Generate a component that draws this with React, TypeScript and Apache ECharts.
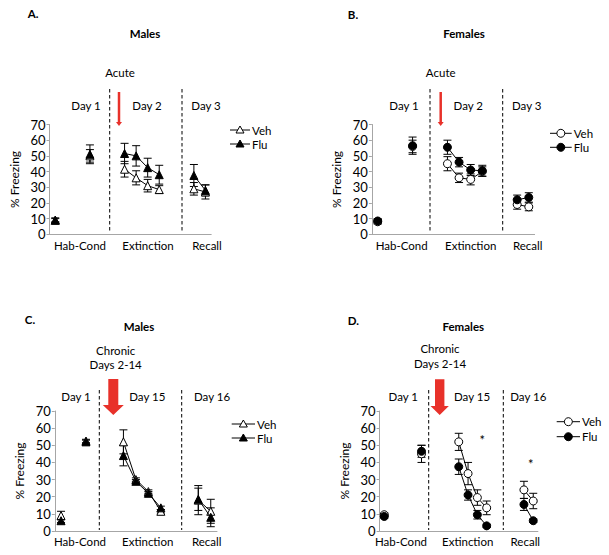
import React, { useEffect, useRef } from "react";
import * as echarts from "echarts";

// Phases: Hab, Cond, Ext1..Ext4, Recall1, Recall2
const phases = ["Hab", "Cond", "Ext1", "Ext2", "Ext3", "Ext4", "Rec1", "Rec2"];

// Panel A – Males, acute
const aVeh = [9, 50, 41.5, 36, 31, 28.5, 29, 27];
const aVehSem = [1, 4, 5, 4.5, 4, 2.5, 4, 4.5];
const aFlu = [9, 51, 51.5, 50, 42.5, 38, 37.5, 28];
const aFluSem = [1.5, 6, 6.5, 6.5, 6, 6, 7, 3.5];

// Panel B – Females, acute
const bVeh = [8, 56, 45, 36, 35, 40, 19, 17.5];
const bVehSem = [1.5, 4, 4.5, 3, 3.5, 3, 3, 2.5];
const bFlu = [8.5, 56.5, 55.5, 46, 41, 40.5, 22, 23.5];
const bFluSem = [1.5, 5.5, 4.5, 3, 3.5, 3.5, 3, 3];

// Panel C – Males, chronic
const cVeh = [9, 52.5, 52, 30, 23, 11.5, 18, 11.5];
const cVehSem = [2.5, 1, 7, 1, 1, 1, 8.5, 7];
const cFlu = [6, 52, 44, 29, 22, 13.5, 18.5, 8];
const cFluSem = [1, 1, 6, 1, 1, 1, 6.5, 5.5];

// Panel D – Females, chronic
const dVeh = [9.5, 45, 52, 33.5, 19.5, 13.5, 24, 17.5];
const dVehSem = [1, 5, 5, 6.5, 4.5, 4, 5, 4.5];
const dFlu = [8.5, 46.5, 37.5, 21, 9.5, 3, 15.5, 6];
const dFluSem = [1, 3.5, 4.5, 3, 2.5, 1, 3.5, 1];

// category slots of each phase on the x axis (layout)
const slotsAB = [0, 3, 6, 7, 8, 9, 12, 13];
const slotsC = [0, 2, 5, 6, 7, 8, 11, 12];
const slotsD = [0, 4, 8, 9, 10, 11, 15, 16];

const yTicks = [0, 10, 20, 30, 40, 50, 60, 70];
const groupLabels = ["Hab-Cond", "Extinction", "Recall"];

const FONT = 'Lato, "Liberation Sans", sans-serif';
const AXIS = "#a6a6a6";
const RED = "#e8312a";

type Panel = {
  grid: { left: number; top: number; width: number; height: number };
  n: number;
  slots: number[];
  veh: number[];
  vehSem: number[];
  flu: number[];
  fluSem: number[];
  symbol: string;
  size: number;
};

const panels: Panel[] = [
  { grid: { left: 49.5, top: 124.5, width: 161.7, height: 109.8 }, n: 14, slots: slotsAB, veh: aVeh, vehSem: aVehSem, flu: aFlu, fluSem: aFluSem, symbol: "triangle", size: 8 },
  { grid: { left: 371.9, top: 124.5, width: 162.7, height: 109.8 }, n: 14, slots: slotsAB, veh: bVeh, vehSem: bVehSem, flu: bFlu, fluSem: bFluSem, symbol: "circle", size: 8 },
  { grid: { left: 54.8, top: 411, width: 162.2, height: 120 }, n: 13, slots: slotsC, veh: cVeh, vehSem: cVehSem, flu: cFlu, fluSem: cFluSem, symbol: "triangle", size: 8 },
  { grid: { left: 379.6, top: 411, width: 158.3, height: 120 }, n: 17, slots: slotsD, veh: dVeh, vehSem: dVehSem, flu: dFlu, fluSem: dFluSem, symbol: "circle", size: 8 },
];

function txt(text: string, x: number, y: number, opts: any = {}) {
  return {
    type: "text",
    x,
    y,
    silent: true,
    style: {
      text,
      fill: "#000",
      fontFamily: FONT,
      fontSize: opts.size || 11.5,
      fontWeight: opts.bold ? "bold" : "normal",
      align: opts.align || "center",
      verticalAlign: "middle",
      textAlign: opts.align || "center",
      textVerticalAlign: "middle",
    },
  };
}

function dashed(x: number, y1: number, y2: number) {
  return {
    type: "line",
    silent: true,
    shape: { x1: x, y1, x2: x, y2 },
    style: { stroke: "#000", lineWidth: 1, lineDash: [3.5, 2.5] },
  };
}

function thinArrow(x: number, y1: number, y2: number) {
  return [
    { type: "line", silent: true, shape: { x1: x, y1, x2: x, y2: y2 - 3 }, style: { stroke: RED, lineWidth: 2.5 } },
    { type: "polygon", silent: true, shape: { points: [[x - 3, y2 - 4], [x + 3, y2 - 4], [x, y2]] }, style: { fill: RED } },
  ];
}

function fatArrow(cx: number, y1: number, yh: number, y2: number, sw: number, hw: number) {
  return {
    type: "polygon",
    silent: true,
    shape: {
      points: [
        [cx - sw / 2, y1], [cx + sw / 2, y1], [cx + sw / 2, yh], [cx + hw / 2, yh],
        [cx, y2], [cx - hw / 2, yh], [cx - sw / 2, yh],
      ],
    },
    style: { fill: RED },
  };
}

function legendItem(x1: number, x2: number, y: number, label: string, symbol: string, filled: boolean) {
  const cx = (x1 + x2) / 2;
  const marker =
    symbol === "circle"
      ? { type: "circle", silent: true, shape: { cx, cy: y, r: 4 }, style: { fill: filled ? "#000" : "#fff", stroke: "#000", lineWidth: 1 } }
      : { type: "polygon", silent: true, shape: { points: [[cx - 4, y + 3], [cx + 4, y + 3], [cx, y - 4]] }, style: { fill: filled ? "#000" : "#fff", stroke: "#000", lineWidth: 1 } };
  return [
    { type: "line", silent: true, shape: { x1, y1: y, x2, y2: y }, style: { stroke: "#000", lineWidth: 1 } },
    marker,
    txt(label, x2 + 2, y, { align: "left", size: 11.5 }),
  ];
}

function buildSeriesData(p: Panel, vals: number[]) {
  const arr: (number | null)[] = new Array(p.n).fill(null);
  p.slots.forEach((s, i) => (arr[s] = vals[i]));
  return arr;
}

function errData(p: Panel, vals: number[], sems: number[]) {
  return p.slots.map((s, i) => [s, vals[i], sems[i]]);
}

const errRender = (params: any, api: any) => {
  const x = api.value(0);
  const m = api.value(1);
  const s = api.value(2);
  const top = api.coord([x, m + s]);
  const bot = api.coord([x, m - s]);
  const cw = 4;
  const st = { stroke: "#000", lineWidth: 1 };
  return {
    type: "group",
    children: [
      { type: "line", shape: { x1: top[0], y1: top[1], x2: bot[0], y2: bot[1] }, style: st },
      { type: "line", shape: { x1: top[0] - cw, y1: top[1], x2: top[0] + cw, y2: top[1] }, style: st },
      { type: "line", shape: { x1: bot[0] - cw, y1: bot[1], x2: bot[0] + cw, y2: bot[1] }, style: st },
    ],
  };
};

function buildOption() {
  const grid: any[] = [];
  const xAxis: any[] = [];
  const yAxis: any[] = [];
  const series: any[] = [];
  panels.forEach((p, i) => {
    grid.push({ ...p.grid, containLabel: false });
    xAxis.push({
      type: "category",
      gridIndex: i,
      data: new Array(p.n).fill(0).map((_, k) => String(k)),
      boundaryGap: true,
      axisLine: { lineStyle: { color: AXIS, width: 1 } },
      axisTick: { show: false },
      axisLabel: { show: false },
      splitLine: { show: false },
    });
    yAxis.push({
      type: "value",
      gridIndex: i,
      min: 0,
      max: 70,
      interval: 10,
      name: "% Freezing",
      nameLocation: "middle",
      nameRotate: 90,
      nameGap: 29,
      nameTextStyle: { fontFamily: FONT, fontSize: 12, color: "#000" },
      axisLine: { show: true, lineStyle: { color: AXIS, width: 1 } },
      axisTick: { show: true, length: 3, lineStyle: { color: AXIS } },
      axisLabel: {
        fontFamily: FONT,
        fontSize: 13,
        color: "#000",
        margin: 4,
        formatter: (v: number) => (yTicks.includes(v) ? String(v) : ""),
      },
      splitLine: { show: false },
    });
    series.push({
      type: "custom",
      name: "VehErr" + i,
      xAxisIndex: i,
      yAxisIndex: i,
      renderItem: errRender,
      data: errData(p, p.veh, p.vehSem),
      z: 1,
      silent: true,
    });
    series.push({
      type: "custom",
      name: "FluErr" + i,
      xAxisIndex: i,
      yAxisIndex: i,
      renderItem: errRender,
      data: errData(p, p.flu, p.fluSem),
      z: 1,
      silent: true,
    });
    series.push({
      type: "line",
      name: "Veh",
      xAxisIndex: i,
      yAxisIndex: i,
      data: buildSeriesData(p, p.veh),
      connectNulls: false,
      showAllSymbol: true,
      symbol: p.symbol,
      symbolSize: p.size,
      lineStyle: { color: "#000", width: 1 },
      itemStyle: { color: "#fff", borderColor: "#000", borderWidth: 1 },
      z: 3,
      silent: true,
    });
    series.push({
      type: "line",
      name: "Flu",
      xAxisIndex: i,
      yAxisIndex: i,
      data: buildSeriesData(p, p.flu),
      connectNulls: false,
      showAllSymbol: true,
      symbol: p.symbol,
      symbolSize: p.size,
      lineStyle: { color: "#000", width: 1 },
      itemStyle: { color: "#000", borderColor: "#000", borderWidth: 1 },
      z: 4,
      silent: true,
    });
  });

  const g: any[] = [];
  // Panel A
  g.push(txt("A.", 33, 13.5, { bold: true, size: 11.5 }));
  g.push(txt("Males", 145, 33, { bold: true, size: 11.5 }));
  g.push(txt("Acute", 120, 72));
  g.push(txt("Day 1", 86, 105), txt("Day 2", 147, 105), txt("Day 3", 206, 105));
  g.push(dashed(109.7, 89, 233), dashed(182, 89, 233));
  g.push(...thinArrow(119, 92, 126));
  g.push(...legendItem(230, 250, 130, "Veh", "triangle", false));
  g.push(...legendItem(230, 250, 144, "Flu", "triangle", true));
  g.push(txt(groupLabels[0], 80, 245), txt(groupLabels[1], 148, 245), txt(groupLabels[2], 207, 245));
  // Panel B
  g.push(txt("B.", 353, 14, { bold: true, size: 11.5 }));
  g.push(txt("Females", 464, 33, { bold: true, size: 11.5 }));
  g.push(txt("Acute", 440.7, 72));
  g.push(txt("Day 1", 404, 105), txt("Day 2", 468.3, 105), txt("Day 3", 526.7, 105));
  g.push(dashed(430, 89, 233), dashed(502.7, 89, 233));
  g.push(...thinArrow(440.7, 92, 126));
  g.push(...legendItem(550, 571.7, 133.3, "Veh", "circle", false));
  g.push(...legendItem(550, 571.7, 147.3, "Flu", "circle", true));
  g.push(txt(groupLabels[0], 401.7, 245), txt(groupLabels[1], 470.7, 245), txt(groupLabels[2], 527.7, 245));
  // Panel C
  g.push(txt("C.", 30, 319, { bold: true, size: 11.5 }));
  g.push(txt("Males", 139, 326.7, { bold: true, size: 11.5 }));
  g.push(txt("Chronic", 115.7, 350), txt("Days 2-14", 115.7, 364.3));
  g.push(txt("Day 1", 76, 396), txt("Day 15", 147.3, 396), txt("Day 16", 212, 396));
  g.push(dashed(99.3, 390, 530), dashed(181.7, 390, 530));
  g.push(fatArrow(113.3, 379, 405, 415, 10, 21));
  g.push(...legendItem(231.7, 255, 424, "Veh", "triangle", false));
  g.push(...legendItem(231.7, 255, 438, "Flu", "triangle", true));
  g.push(txt(groupLabels[0], 80, 541.7), txt(groupLabels[1], 147.7, 541.7), txt(groupLabels[2], 206.7, 541.7));
  // Panel D
  g.push(txt("D.", 353.3, 320, { bold: true, size: 11.5 }));
  g.push(txt("Females", 463.3, 326.7, { bold: true, size: 11.5 }));
  g.push(txt("Chronic", 440, 348.3), txt("Days 2-14", 440, 363.3));
  g.push(txt("Day 1", 403.3, 396), txt("Day 15", 472, 396), txt("Day 16", 528.3, 396));
  g.push(dashed(428.7, 390, 530), dashed(503.3, 390, 530));
  g.push(fatArrow(439.7, 379.3, 406, 415, 9.4, 18.3));
  g.push(...legendItem(556.7, 580, 421.7, "Veh", "circle", false));
  g.push(...legendItem(556.7, 580, 436.7, "Flu", "circle", true));
  g.push(txt(groupLabels[0], 401, 541.7), txt(groupLabels[1], 467.7, 541.7), txt(groupLabels[2], 525.3, 541.7));
  g.push(txt("*", 482.3, 439.5, { size: 13 }), txt("*", 530.7, 464, { size: 13 }));

  return {
    animation: false,
    backgroundColor: "#fff",
    grid,
    xAxis,
    yAxis,
    series,
    graphic: { elements: g },
  };
}

export default function App() {
  const ref = useRef<HTMLDivElement>(null);
  useEffect(() => {
    if (!ref.current) return;
    const chart = echarts.init(ref.current, undefined, { renderer: "svg" });
    chart.setOption(buildOption() as any);
    return () => chart.dispose();
  }, []);
  return (
    <div
      ref={ref}
      style={{ position: "fixed", left: 0, top: 0, width: 609, height: 555, background: "#fff" }}
    />
  );
}
